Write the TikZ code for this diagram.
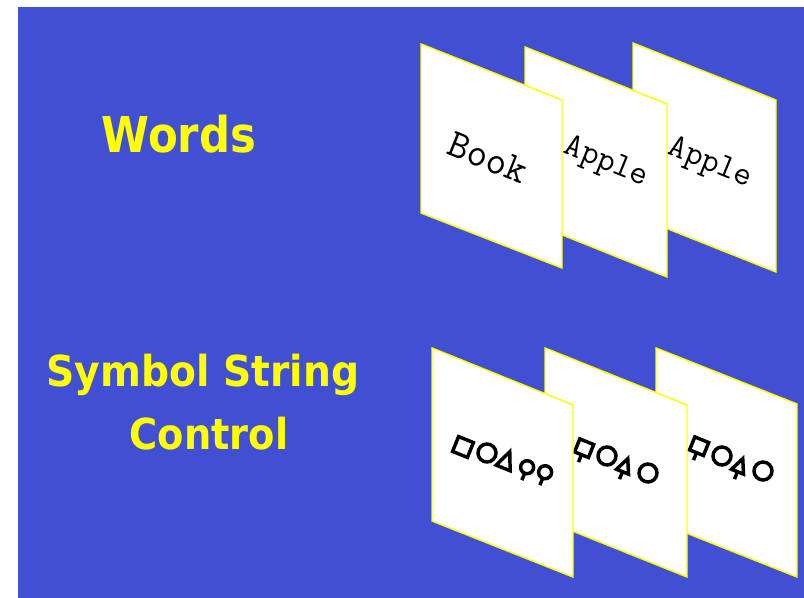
\documentclass[tikz,border=0pt]{standalone}
\usepackage{fontspec}
\newfontfamily\titlefont{DejaVu Sans}
\definecolor{bgblue}{RGB}{65,79,210}
\definecolor{ttlyellow}{RGB}{255,255,0}
\begin{document}
\begin{tikzpicture}[x=0.75pt,y=-0.75pt,
  panel/.style={fill=white, draw=ttlyellow, line width=1.1pt, line join=miter},
  ttl/.style={text=ttlyellow, font=\titlefont\bfseries\fontsize{#1}{#1}\selectfont, anchor=base, inner sep=0pt},
  word/.style={font=\ttfamily\addfontfeature{FakeBold=1.2}\fontsize{#1}{#1}\selectfont, rotate=-22, inner sep=0pt, text=black},
  sym/.style={draw=black, line width=2.6pt},
  psq/.pic={\draw[sym] (-8,-8) rectangle (8,8);},
  pcirc/.pic={\draw[sym] (0,0) circle[radius=9];},
  ptri/.pic={\draw[sym] (0,-10) -- (7.5,7.5) -- (-7.5,7.5) -- cycle;},
  plol/.pic={\draw[sym] (0,-3) circle[radius=6.5]; \draw[sym] (0,3.5) -- (0,11);},
  psqlol/.pic={\draw[sym] (-7.5,-10) rectangle (7.5,4); \draw[sym] (0,4) -- (0,12);},
  ptrilol/.pic={\draw[sym] (0,-10) -- (6.5,4) -- (-6.5,4) -- cycle; \draw[sym] (0,4) -- (0,12);}
]
\useasboundingbox (0,0) rectangle (804,598);
\fill[white] (0,0) rectangle (804,598);
\fill[bgblue] (18,7) rectangle (804,598);

% titles
\node[ttl=37pt, xscale=0.88] (words) at (179,153) {Words};
\node[ttl=32pt, xscale=0.92] (sym1) at (203,387) {Symbol String};
\node[ttl=32pt, xscale=0.90] (sym2) at (209,450) {Control};

% top row
\draw[panel] (633,43) -- (776,100) -- (776,272) -- (633,215) -- cycle;
\node[word=25.5pt] (apple2) at (710,164) {Apple};
\draw[panel] (525,47) -- (667,104) -- (667,277) -- (525,220) -- cycle;
\node[word=25.5pt] (apple1) at (606,163) {Apple};
\draw[panel] (421,44) -- (562,100) -- (562,268) -- (421,213) -- cycle;
\node[word=30pt] (book) at (488,158) {Book};

% bottom row
\draw[panel] (656,348) -- (797,404) -- (797,577) -- (656,521) -- cycle;
\pic[rotate=-22] at (698,449) {psqlol};
\pic[rotate=-22] at (722,456) {pcirc};
\pic[rotate=-22] at (739,468) {ptrilol};
\pic[rotate=-22] at (763,471) {pcirc};
\draw[panel] (545,348) -- (687,405) -- (687,577) -- (545,520) -- cycle;
\pic[rotate=-22] at (583,451) {psqlol};
\pic[rotate=-22] at (607,456) {pcirc};
\pic[rotate=-22] at (624,468) {ptrilol};
\pic[rotate=-22] at (648,473) {pcirc};
\draw[panel] (432,348) -- (573,405) -- (573,577) -- (432,521) -- cycle;
\pic[rotate=-22] at (463,447) {psq};
\pic[rotate=-22] at (487,453) {pcirc};
\pic[rotate=-22] at (506,461) {ptri};
\pic[rotate=-22] at (526,470) {plol};
\pic[rotate=-22] at (544,475) {plol};
\end{tikzpicture}
\end{document}
